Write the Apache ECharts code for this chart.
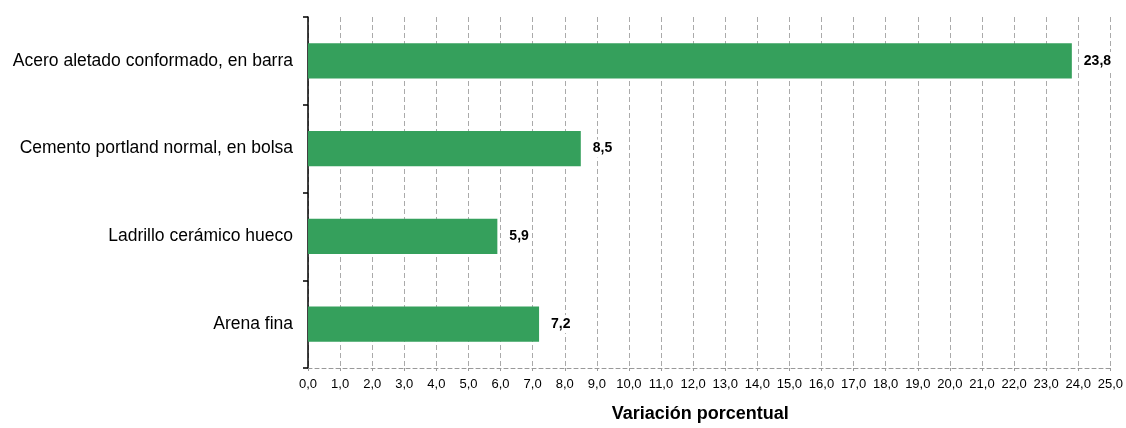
<!DOCTYPE html>
<html><head><meta charset="utf-8">
<script src="https://cdn.jsdelivr.net/npm/echarts@6/dist/echarts.min.js"></script>
<style>html,body{margin:0;padding:0;background:#fff}#c{width:1126px;height:428px}</style>
</head><body><div id="c"></div>
<script>
const categories = ["Acero aletado conformado, en barra", "Cemento portland normal, en bolsa", "Ladrillo cerámico hueco", "Arena fina"];
const values = [23.8, 8.5, 5.9, 7.2];
const axisName = "Variación porcentual";

const chart = echarts.init(document.getElementById('c'));
chart.setOption({
  animation: false,
  grid: {left: 308, right: 14, top: 17, bottom: 54, containLabel: false},
  xAxis: {
    type: 'value', min: 0, max: 25, interval: 1,
    name: axisName, nameLocation: 'middle', nameGap: 37,
    nameTextStyle: {fontFamily: 'Liberation Sans', fontSize: 18, fontWeight: 'bold', color: '#000', padding: [0, 18, 0, 0]},
    axisLine: {show: true, lineStyle: {color: '#999', type: [4, 3], width: 1}},
    axisTick: {show: true, length: 3, lineStyle: {color: '#999'}},
    splitLine: {show: true, lineStyle: {color: '#aaa', type: [5, 3], width: 1}},
    axisLabel: {fontFamily: 'Liberation Sans', fontSize: 13, color: '#000', margin: 10,
      formatter: v => v.toFixed(1).replace('.', ',')}
  },
  yAxis: {
    type: 'category', data: categories, inverse: true,
    axisLine: {show: true, lineStyle: {color: '#000', width: 1.5}},
    axisTick: {show: true, length: 5, inside: false, lineStyle: {color: '#000', width: 1.5}},
    axisLabel: {fontFamily: 'Liberation Sans', fontSize: 17.5, color: '#000', margin: 15}
  },
  series: [{
    type: 'bar', data: values, barWidth: '40%',
    itemStyle: {color: '#35A05C'},
    label: {show: true, position: 'right', distance: 10,
      fontFamily: 'Liberation Sans', fontSize: 14, fontWeight: 'bold', color: '#000',
      backgroundColor: '#fff', padding: [2, 2],
      formatter: p => p.value.toFixed(1).replace('.', ',')}
  }]
});
</script></body></html>
